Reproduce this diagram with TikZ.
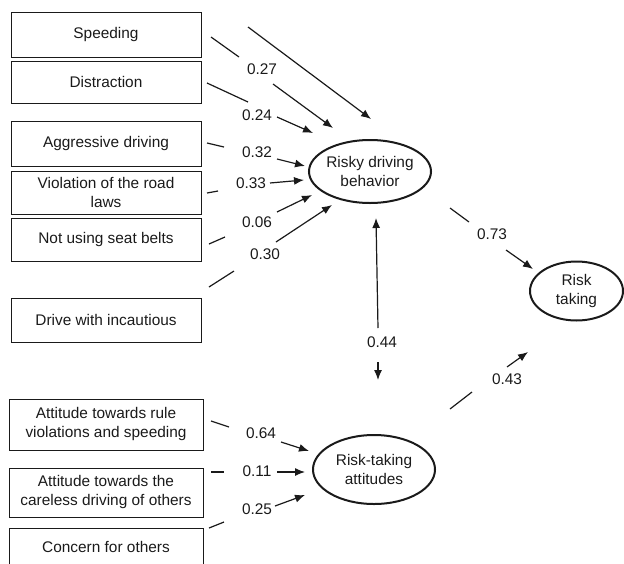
\documentclass[tikz,border=0pt]{standalone}
\usepackage{fontspec}
\setmainfont{Liberation Sans}
\usetikzlibrary{shapes.geometric,arrows.meta}
\definecolor{ink}{HTML}{1A1A1A}
\tikzset{
  box/.style={draw=ink, line width=0.9pt, rectangle, minimum width=190pt, inner sep=0pt, align=center, text=ink},
  ell/.style={draw=ink, line width=2pt, ellipse, inner sep=0pt},
  etext/.style={align=center, text=ink, inner sep=0pt},
  lab/.style={text=ink, inner sep=0pt},
  seg/.style={draw=ink, line width=1.2pt},
  arr/.style={draw=ink, line width=1.2pt, -{Latex[length=10pt,width=8pt]}},
}
\begin{document}
\begin{tikzpicture}[x=1pt,y=-1pt, font=\fontsize{15.4}{19}\selectfont]
\useasboundingbox (0,0) rectangle (624,563);
\clip (0,0) rectangle (624,563);
% boxes
\node[box, minimum height=45pt] (speed) at (106,34.5) {Speeding};
\node[box, minimum height=42pt] (distr) at (106,82) {Distraction};
\node[box, minimum height=45pt] (aggr) at (106,143.5) {Aggressive driving};
\node[box, minimum height=43pt] (viol) at (106,192.5) {Violation of the road\\laws};
\node[box, minimum height=43pt] (belt) at (106,239.5) {Not using seat belts};
\node[box, minimum height=44pt] (incau) at (106,320) {Drive with incautious};
\node[box, minimum width=194pt, minimum height=51pt] (rule) at (106,424.5) {Attitude towards rule\\violations and speeding};
\node[box, minimum width=194pt, minimum height=49pt] (care) at (106,492.5) {Attitude towards the\\careless driving of others};
\node[box, minimum width=194pt, minimum height=37pt] (conc) at (106,546.5) {Concern for others};
% ellipses
\node[ell, minimum width=122pt, minimum height=63pt] (rdb) at (370,171.5) {};
\node[etext] (rdbt) at (rdb) {Risky driving\\behavior};
\node[ell, minimum width=93pt, minimum height=59pt] (rt) at (576.5,291) {};
\node[etext] (rtt) at (rt) {Risk\\taking};
\node[ell, minimum width=122pt, minimum height=69pt] (rta) at (374,469.5) {};
\node[etext] (rtat) at (rta) {Risk-taking\\attitudes};
% coordinates
\coordinate (la) at (248,27); \coordinate (lb) at (371,119);
\coordinate (a1) at (211,37); \coordinate (a2) at (239,57); \coordinate (a3) at (273,84); \coordinate (a4) at (333,128);
\coordinate (b1) at (207,83); \coordinate (b2) at (248,102); \coordinate (b3) at (277,117); \coordinate (b4) at (313,133);
\coordinate (c1) at (207,143); \coordinate (c2) at (224,147); \coordinate (c3) at (277,159); \coordinate (c4) at (305,166);
\coordinate (d1) at (207,193); \coordinate (d2) at (218,191); \coordinate (d3) at (270,183); \coordinate (d4) at (304,180);
\coordinate (e1) at (209,244); \coordinate (e2) at (225,237); \coordinate (e3) at (277,212); \coordinate (e4) at (312,195);
\coordinate (f1) at (209,287); \coordinate (f2) at (234,271); \coordinate (f3) at (276,242); \coordinate (f4) at (332,205);
\coordinate (g1) at (450,208); \coordinate (g2) at (469,222); \coordinate (g3) at (506,250); \coordinate (g4) at (533,269);
\coordinate (h1) at (378,328); \coordinate (h2) at (376,218); \coordinate (h3) at (378,362); \coordinate (h4) at (378,380);
\coordinate (i1) at (450,409); \coordinate (i2) at (472,392); \coordinate (i3) at (507,367); \coordinate (i4) at (528,352);
\coordinate (j1) at (211,421); \coordinate (j2) at (229,427); \coordinate (j3) at (281,442); \coordinate (j4) at (309,451);
\coordinate (k1) at (211,472); \coordinate (k2) at (224,472); \coordinate (k3) at (277,472); \coordinate (k4) at (305,472);
\coordinate (m1) at (209,528); \coordinate (m2) at (224,522); \coordinate (m3) at (275,506); \coordinate (m4) at (305,495);
% labels
\node[lab] (l27) at (262,69) {0.27};
\node[lab] (l24) at (257,115) {0.24};
\node[lab] (l32) at (257,152) {0.32};
\node[lab] (l33) at (251,183) {0.33};
\node[lab] (l06) at (257,222) {0.06};
\node[lab] (l30) at (265,254) {0.30};
\node[lab] (l73) at (492,234) {0.73};
\node[lab] (l44) at (382,342) {0.44};
\node[lab] (l43) at (507,379) {0.43};
\node[lab] (l64) at (261,433) {0.64};
\node[lab] (l11) at (257,471) {0.11};
\node[lab] (l25) at (257,509) {0.25};
% connectors
\draw[arr] (la) -- (lb);
\draw[seg] (a1) -- (a2); \draw[arr] (a3) -- (a4);
\draw[seg] (b1) -- (b2); \draw[arr] (b3) -- (b4);
\draw[seg] (c1) -- (c2); \draw[arr] (c3) -- (c4);
\draw[seg] (d1) -- (d2); \draw[arr] (d3) -- (d4);
\draw[seg] (e1) -- (e2); \draw[arr] (e3) -- (e4);
\draw[seg] (f1) -- (f2); \draw[arr] (f3) -- (f4);
\draw[seg] (g1) -- (g2); \draw[arr] (g3) -- (g4);
\draw[arr] (h1) -- (h2); \draw[arr] (h3) -- (h4);
\draw[seg] (i1) -- (i2); \draw[arr] (i3) -- (i4);
\draw[seg] (j1) -- (j2); \draw[arr] (j3) -- (j4);
\draw[seg] (k1) -- (k2); \draw[arr] (k3) -- (k4);
\draw[seg] (m1) -- (m2); \draw[arr] (m3) -- (m4);
\end{tikzpicture}
\end{document}
